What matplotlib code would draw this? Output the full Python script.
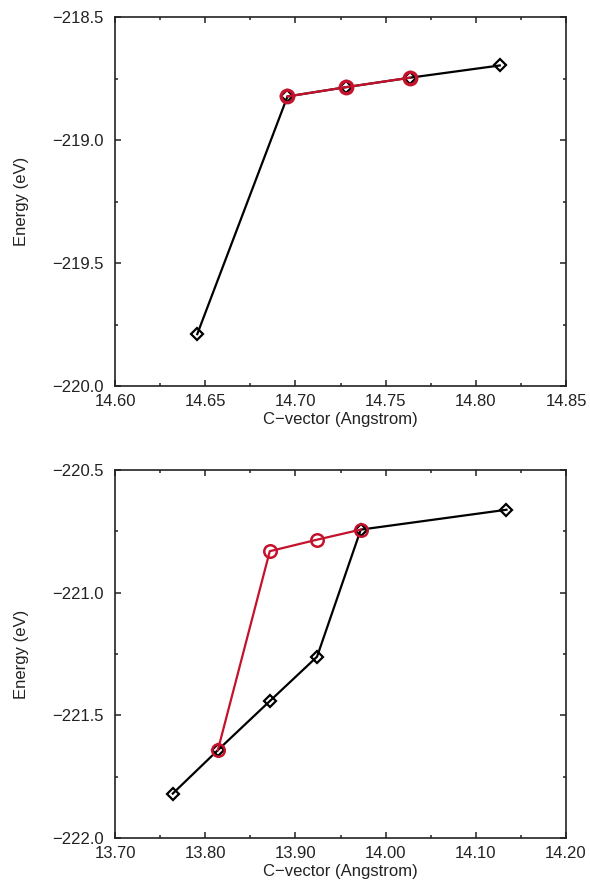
import numpy as np
import matplotlib
matplotlib.use('Agg')
import matplotlib.pyplot as plt
from matplotlib.ticker import MultipleLocator, FuncFormatter

plt.rcParams['font.family'] = ['Liberation Sans', 'DejaVu Sans']

# top panel data
top_x_black = [14.6456, 14.6956, 14.7283, 14.7633, 14.8133]
top_e_black = [-219.789, -218.823, -218.785, -218.747, -218.697]
top_x_red = [14.6956, 14.7283, 14.7633]
top_e_red = [-218.823, -218.785, -218.747]

# bottom panel data
bot_x_black = [13.764, 13.814, 13.8716, 13.924, 13.9725, 14.134]
bot_e_black = [-221.819, -221.642, -221.442, -221.261, -220.743, -220.662]
bot_x_red = [13.814, 13.8716, 13.924, 13.9725]
bot_e_red = [-221.642, -220.831, -220.784, -220.743]

red = '#c4122c'
ink = '#222222'

fig = plt.figure(figsize=(5.9, 8.86), dpi=100)
W, H = 590, 886
ax1 = fig.add_axes([115/W, 1-386/H, 451/W, 369/H])
ax2 = fig.add_axes([115/W, 1-838/H, 451/W, 368/H])

def fmt(nd):
    return FuncFormatter(lambda v, p: f'{v:.{nd}f}'.replace('-', '\u2212'))

def style(ax, xlim, ylim, xmaj, ymaj):
    ax.set_xlim(*xlim)
    ax.set_ylim(*ylim)
    ax.xaxis.set_major_locator(MultipleLocator(xmaj))
    ax.xaxis.set_minor_locator(MultipleLocator(xmaj/2))
    ax.yaxis.set_major_locator(MultipleLocator(ymaj))
    ax.yaxis.set_minor_locator(MultipleLocator(ymaj/2))
    ax.xaxis.set_major_formatter(fmt(2))
    ax.yaxis.set_major_formatter(fmt(1))
    ax.tick_params(which='both', direction='in', top=True, right=True,
                   labelsize=12, width=1.1, colors=ink)
    ax.tick_params(which='major', length=4.5)
    ax.tick_params(which='minor', length=2.5)
    ax.tick_params(axis='x', pad=6)
    ax.tick_params(axis='y', pad=8)
    for s in ax.spines.values():
        s.set_linewidth(1.2)
        s.set_color(ink)
    ax.set_xlabel('C\u2212vector (Angstrom)', fontsize=12, labelpad=2, color=ink)
    ax.set_ylabel('Energy (eV)', fontsize=12, labelpad=17, color=ink)

ax1.plot(top_x_black, top_e_black, color='black', lw=1.6, marker='D',
         ms=6.5, mfc='none', mec='black', mew=1.6)
ax1.plot(top_x_red, top_e_red, color=red, lw=1.6, marker='o',
         ms=9, mfc='none', mec=red, mew=2.4)
style(ax1, (14.60, 14.85), (-220.0, -218.5), 0.05, 0.5)

ax2.plot(bot_x_black, bot_e_black, color='black', lw=1.6, marker='D',
         ms=6.5, mfc='none', mec='black', mew=1.6)
ax2.plot(bot_x_red, bot_e_red, color=red, lw=1.6, marker='o',
         ms=9, mfc='none', mec=red, mew=1.8)
style(ax2, (13.70, 14.20), (-222.0, -220.5), 0.1, 0.5)

fig.savefig('out.png', dpi=100)
